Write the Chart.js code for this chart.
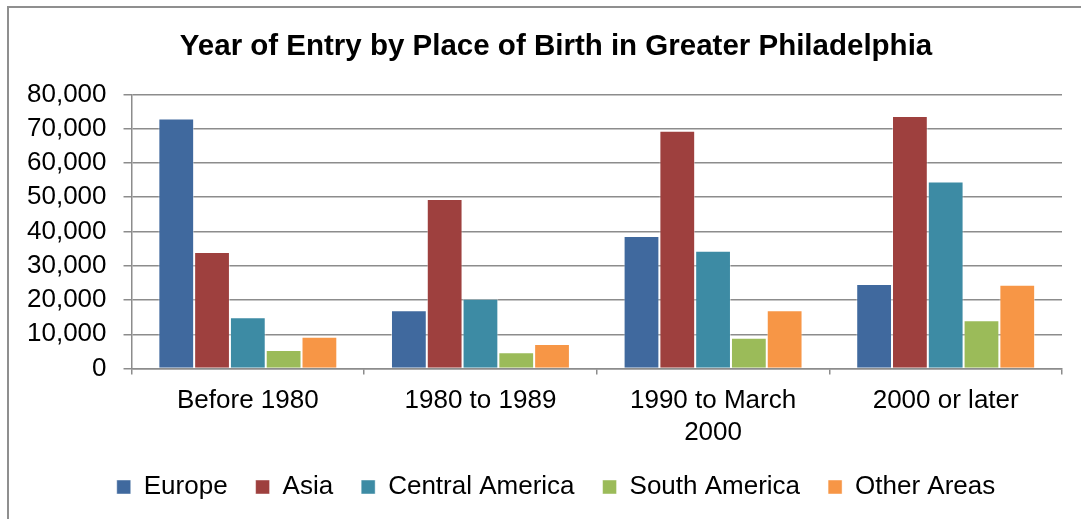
<!DOCTYPE html>
<html>
<head>
<meta charset="utf-8">
<script src="https://cdn.jsdelivr.net/npm/chart.js@4/dist/chart.umd.min.js"></script>
<style>
  html, body { margin: 0; padding: 0; background: #fff; overflow: hidden; }
  #frame {
    position: absolute; left: 7px; top: 6px;
    width: 1098px; height: 540px;
    border: 2px solid #8f8f8f;
    background: #fff;
  }
  canvas { display: block; }
</style>
</head>
<body>
<div id="frame"><canvas id="acquisitions" width="1098" height="505"></canvas></div>
<script>
const categories = ['Before 1980', '1980 to 1989', ['1990 to March', '2000'], '2000 or later'];
const europe = [73000, 17000, 38700, 24700];
const asia = [34000, 49500, 69400, 73700];
const centralAmerica = [15000, 20400, 34400, 54600];
const southAmerica = [5400, 4800, 9000, 14100];
const otherAreas = [9300, 7200, 17000, 24500];
const yTicks = [0, 10000, 20000, 30000, 40000, 50000, 60000, 70000, 80000];

const FONT = '"Liberation Sans", Arial, sans-serif';

// the original chart is cropped on the right, so title and legend sit right of the plot's centre
const shiftHeader = {
  id: 'shiftHeader',
  afterLayout(chart) {
    for (const box of [chart.titleBlock, chart.legend]) {
      if (!box) continue;
      box.left += 20;
      box.right += 20;
    }
  }
};

(async function() {
  new Chart(
    document.getElementById('acquisitions'),
    {
      type: 'bar',
      plugins: [shiftHeader],
      data: {
        labels: categories,
        datasets: [
          { label: 'Europe', data: europe, backgroundColor: '#40699e' },
          { label: 'Asia', data: asia, backgroundColor: '#9e403e' },
          { label: 'Central America', data: centralAmerica, backgroundColor: '#3d8ba4' },
          { label: 'South America', data: southAmerica, backgroundColor: '#9bbb59' },
          { label: 'Other Areas', data: otherAreas, backgroundColor: '#f79646' }
        ]
      },
      options: {
        responsive: false,
        animation: false,
        datasets: {
          bar: {
            categoryPercentage: 5 / 6.5,
            barPercentage: 1,
            borderWidth: 1,
            borderColor: 'rgba(255,255,255,0.45)'
          }
        },
        layout: { padding: { left: 1, right: 45, top: 0, bottom: 3 } },
        plugins: {
          title: {
            display: true,
            text: 'Year of Entry by Place of Birth in Greater Philadelphia',
            color: '#000',
            font: { family: FONT, size: 29.5, weight: 'bold' },
            padding: { top: 21, bottom: 30 }
          },
          legend: {
            position: 'bottom',
            labels: {
              color: '#000',
              font: { family: FONT, size: 26 },
              boxWidth: 14,
              boxHeight: 14,
              padding: 28
            }
          },
          tooltip: { enabled: false }
        },
        scales: {
          x: {
            grid: {
              drawOnChartArea: false,
              drawTicks: true,
              tickLength: 6,
              color: '#8c8c8c',
              lineWidth: 1.5
            },
            border: { color: '#8c8c8c', width: 1.5 },
            ticks: {
              color: '#000',
              font: { family: FONT, size: 26 },
              padding: 11,
              maxRotation: 0
            },
            afterFit: axis => { axis.height -= 13; }
          },
          y: {
            min: 0,
            max: 80000,
            afterBuildTicks: axis => { axis.ticks = yTicks.map(v => ({ value: v })); },
            grid: {
              color: '#8c8c8c',
              lineWidth: 1.5,
              tickLength: 8
            },
            border: { color: '#8c8c8c', width: 1.5 },
            ticks: {
              color: '#000',
              font: { family: FONT, size: 26 },
              padding: 17,
              autoSkip: false,
              callback: v => v.toLocaleString('en-US')
            }
          }
        }
      }
    }
  );
})();
</script>
</body>
</html>
